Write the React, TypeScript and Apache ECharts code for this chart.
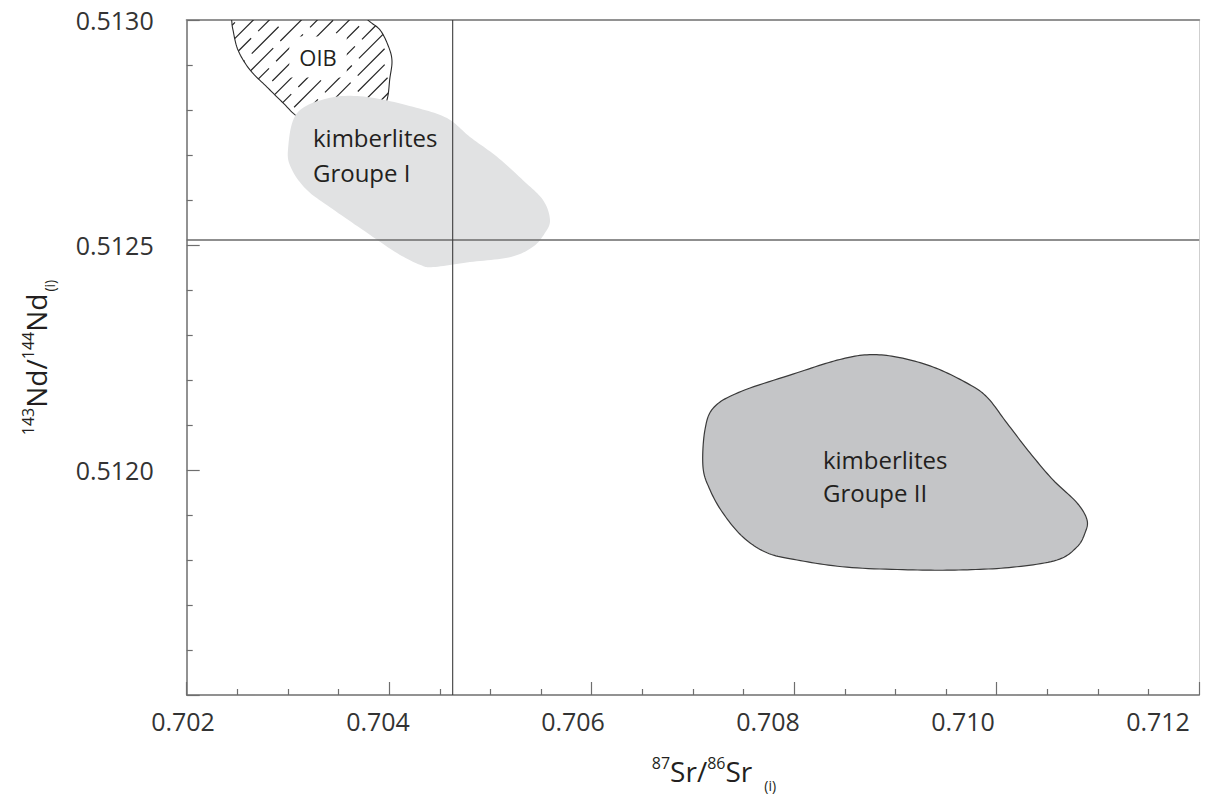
import React, { useEffect, useRef } from 'react';
import * as echarts from 'echarts';

// ---------- data ----------
const X_MIN = 0.702;
const X_MAX = 0.712;
const X_STEP = 0.002;
const Y_MIN = 0.5115;
const Y_MAX = 0.513;
const Y_STEP = 0.0005;
const yTickLabels = [0.512, 0.5125, 0.513];

// reference lines (bulk earth)
const refSr = 0.704627;
const refNd = 0.512511;

// OIB field outline (87Sr/86Sr, 143Nd/144Nd) – extends above the plot top
const oibField: [number, number][] = [
  [0.702418, 0.513067], [0.702444, 0.513], [0.702457, 0.512978], [0.702507, 0.512933],
  [0.702625, 0.512889], [0.702793, 0.512851], [0.702951, 0.512816], [0.703119, 0.512782],
  [0.703415, 0.51276], [0.703761, 0.512773], [0.703958, 0.512811], [0.704008, 0.512873],
  [0.704027, 0.512911], [0.703988, 0.512944], [0.703909, 0.512978], [0.70379, 0.513],
  [0.703613, 0.51304], [0.703317, 0.513067],
];

// kimberlites Groupe I field
const groupIField: [number, number][] = [
  [0.703, 0.512711], [0.703089, 0.512793], [0.703415, 0.512827], [0.703781, 0.512829],
  [0.704235, 0.512807], [0.704571, 0.512782], [0.704798, 0.51274], [0.705065, 0.512696],
  [0.705321, 0.512644], [0.705519, 0.5126], [0.705588, 0.512556], [0.705539, 0.512527],
  [0.70542, 0.512496], [0.705193, 0.512473], [0.704798, 0.512462], [0.704433, 0.512451],
  [0.704304, 0.512456], [0.704077, 0.512482], [0.703781, 0.512527], [0.703415, 0.512584],
  [0.703188, 0.512622], [0.70304, 0.512667],
];

// kimberlites Groupe II field
const groupIIField: [number, number][] = [
  [0.707099, 0.512007], [0.707119, 0.51209], [0.707210, 0.512140], [0.707480, 0.512175],
  [0.708028, 0.512216], [0.708423, 0.512244], [0.708719, 0.512256], [0.709015, 0.512251],
  [0.709371, 0.512229], [0.709707, 0.512193], [0.709904, 0.512162], [0.710102, 0.512104],
  [0.710329, 0.512038], [0.710556, 0.511978], [0.710793, 0.511927], [0.710892, 0.511889],
  [0.710872, 0.51186], [0.710793, 0.511829], [0.710596, 0.5118], [0.710161, 0.511784],
  [0.709667, 0.511778], [0.709173, 0.511778], [0.708521, 0.511784], [0.708028, 0.5118],
  [0.707731, 0.511816], [0.707494, 0.511851], [0.707297, 0.511904], [0.707168, 0.511956],
];

const fieldLabels = ['OIB', 'kimberlites\nGroupe I', 'kimberlites\nGroupe II'];
const fieldLabelPos: [number, number][] = [
  [0.703297, 0.512918],
  [0.703247, 0.512699],
  [0.708284, 0.511986],
];

const FONT = '"Open Sans", "Noto Sans", sans-serif';

// ---------- helpers ----------
function catmullClosed(pts: number[][], segs = 10): number[][] {
  const n = pts.length;
  const out: number[][] = [];
  for (let i = 0; i < n; i++) {
    const p0 = pts[(i - 1 + n) % n];
    const p1 = pts[i];
    const p2 = pts[(i + 1) % n];
    const p3 = pts[(i + 2) % n];
    for (let s = 0; s < segs; s++) {
      const t = s / segs;
      const t2 = t * t;
      const t3 = t2 * t;
      const f = (a: number, b: number, c: number, d: number) =>
        0.5 * (2 * b + (-a + c) * t + (2 * a - 5 * b + 4 * c - d) * t2 + (-a + 3 * b - 3 * c + d) * t3);
      out.push([f(p0[0], p1[0], p2[0], p3[0]), f(p0[1], p1[1], p2[1], p3[1])]);
    }
  }
  return out;
}

function hatch(poly: number[][], step: number) {
  const sums = poly.map((p) => p[0] + p[1]);
  const cMin = Math.min(...sums);
  const cMax = Math.max(...sums);
  const segs: { x1: number; y1: number; x2: number; y2: number }[] = [];
  const n = poly.length;
  for (let c = cMin + step / 2; c < cMax; c += step) {
    const ts: number[] = [];
    for (let i = 0; i < n; i++) {
      const A = poly[i];
      const B = poly[(i + 1) % n];
      const den = B[0] - A[0] + (B[1] - A[1]);
      if (Math.abs(den) < 1e-9) continue;
      const s = (c - (A[0] + A[1])) / den;
      if (s >= 0 && s < 1) ts.push(A[0] + s * (B[0] - A[0]));
    }
    ts.sort((a, b) => a - b);
    for (let k = 0; k + 1 < ts.length; k += 2) {
      segs.push({ x1: ts[k], y1: c - ts[k], x2: ts[k + 1], y2: c - ts[k + 1] });
    }
  }
  return segs;
}

function fieldSeries(name: string, pts: [number, number][], style: any, withHatch: boolean) {
  return {
    type: 'custom',
    name,
    data: pts,
    clip: true,
    silent: true,
    renderItem: (params: any, api: any) => {
      if (params.dataIndex !== 0) return null;
      const px = pts.map((p) => api.coord(p));
      const dense = catmullClosed(px, 12);
      const children: any[] = [];
      if (withHatch) {
        hatch(dense, 16).forEach((s, i) => {
          children.push({
            type: 'line',
            shape: s,
            style: { stroke: '#262626', lineWidth: 1.2, lineDash: [38, 10], lineDashOffset: (i * 17) % 48 },
          });
        });
      }
      children.push({ type: 'polygon', shape: { points: dense }, style });
      return { type: 'group', children };
    },
  };
}

export default function App() {
  const ref = useRef<HTMLDivElement>(null);
  useEffect(() => {
    if (!ref.current) return;
    const chart = echarts.init(ref.current, undefined, { renderer: 'svg' });
    const axisColor = '#6e6e6e';
    const rich = (subPad: number) => ({
      main: { fontSize: 28, lineHeight: 42, verticalAlign: 'middle', color: '#231f20', fontFamily: FONT },
      sup: { fontSize: 16, lineHeight: 16, verticalAlign: 'top', padding: [5, 0, 0, 0], color: '#231f20', fontFamily: FONT },
      sub: { fontSize: 14, lineHeight: 14, verticalAlign: 'bottom', padding: [0, 0, 0, subPad], color: '#231f20', fontFamily: FONT },
    });
    const hidden = { axisLine: { show: false }, axisTick: { show: false }, axisLabel: { show: false }, splitLine: { show: false } };
    const option: any = {
      animation: false,
      textStyle: { fontFamily: FONT },
      grid: [
        { left: 186.7, right: 5.8, top: 20, bottom: 105, containLabel: false },
        // label layer: the printed tick labels sit on a slightly narrower scale than the ticks
        { left: 183, right: 47, top: 20, bottom: 105, containLabel: false },
      ],
      xAxis: [
        {
          type: 'value', gridIndex: 0, min: X_MIN, max: X_MAX, interval: X_STEP, position: 'bottom',
          axisLine: { show: true, onZero: false, lineStyle: { color: axisColor, width: 1.5 } },
          axisTick: { show: true, inside: true, length: 13, lineStyle: { color: axisColor, width: 1.2 } },
          minorTick: { show: true, splitNumber: 4, length: 6, lineStyle: { color: axisColor, width: 1.2 } },
          axisLabel: { show: false },
          splitLine: { show: false },
          name: '{sup|87}{main|Sr/}{sup|86}{main|Sr}{sub|(i)}',
          nameLocation: 'middle',
          nameGap: 55,
          nameTextStyle: { padding: [0, 0, 0, 42], rich: rich(12) },
        },
        {
          type: 'value', gridIndex: 0, min: X_MIN, max: X_MAX, position: 'top',
          ...hidden,
          axisLine: { show: true, onZero: false, lineStyle: { color: '#929292', width: 2 } },
        },
        {
          type: 'value', gridIndex: 1, min: X_MIN, max: X_MAX, interval: X_STEP, position: 'bottom',
          axisLine: { show: false }, axisTick: { show: false }, splitLine: { show: false },
          axisLabel: {
            formatter: (v: number) => v.toFixed(3),
            fontSize: 25, color: '#333', margin: 13, fontFamily: FONT,
          },
        },
      ],
      yAxis: [
        {
          type: 'value', gridIndex: 0, min: Y_MIN, max: Y_MAX, interval: Y_STEP, position: 'left',
          axisLine: { show: true, onZero: false, lineStyle: { color: axisColor, width: 1.5 } },
          axisTick: { show: true, inside: true, length: 13, lineStyle: { color: axisColor, width: 1.2 } },
          minorTick: { show: true, splitNumber: 5, length: 6, lineStyle: { color: axisColor, width: 1.2 } },
          axisLabel: {
            customValues: yTickLabels,
            formatter: (v: number) => v.toFixed(4),
            fontSize: 25, color: '#333', margin: 33, fontFamily: FONT,
          },
          splitLine: { show: false },
          name: '{sup|143}{main|Nd/}{sup|144}{main|Nd}{sub|(i)}',
          nameLocation: 'middle',
          nameRotate: 90,
          nameGap: 130,
          nameTextStyle: { rich: rich(2) },
        },
        {
          type: 'value', gridIndex: 0, min: Y_MIN, max: Y_MAX, position: 'right',
          ...hidden,
          axisLine: { show: true, onZero: false, lineStyle: { color: '#cfcfcf', width: 1 } },
        },
        { type: 'value', gridIndex: 1, min: Y_MIN, max: Y_MAX, ...hidden },
      ],
      series: [
        fieldSeries('OIB', oibField, { fill: 'none', stroke: '#2b2b2b', lineWidth: 1.1 }, true),
        fieldSeries('kimberlites Groupe I', groupIField, { fill: '#e1e2e3', stroke: 'none' }, false),
        fieldSeries('kimberlites Groupe II', groupIIField, { fill: '#c4c5c7', stroke: '#3a3a3a', lineWidth: 1.2 }, false),
        {
          type: 'custom',
          name: 'reference',
          data: [[refSr, refNd]],
          silent: true,
          renderItem: (params: any, api: any) => {
            const sr = api.value(0);
            const nd = api.value(1);
            const v1 = api.coord([sr, Y_MIN]);
            const v2 = api.coord([sr, Y_MAX]);
            const h1 = api.coord([X_MIN, nd]);
            const h2 = api.coord([X_MAX, nd]);
            return {
              type: 'group',
              children: [
                { type: 'line', shape: { x1: h1[0], y1: h1[1], x2: h2[0], y2: h2[1] }, style: { stroke: '#6a6a6a', lineWidth: 1.6 } },
                { type: 'line', shape: { x1: v1[0], y1: v1[1], x2: v2[0], y2: v2[1] }, style: { stroke: '#3c3c3c', lineWidth: 1.1 } },
              ],
            };
          },
        },
        {
          type: 'custom',
          name: 'labels',
          data: fieldLabelPos,
          silent: true,
          renderItem: (params: any, api: any) => {
            const p = api.coord([api.value(0), api.value(1)]);
            const i = params.dataIndex;
            const isOib = i === 0;
            return {
              type: 'text',
              x: p[0],
              y: p[1],
              style: {
                text: fieldLabels[i],
                fill: '#231f20',
                fontFamily: FONT,
                fontSize: isOib ? 22 : 24,
                lineHeight: i === 1 ? 35 : 33,
                align: isOib ? 'center' : 'left',
                verticalAlign: 'middle',
                backgroundColor: isOib ? '#ffffff' : undefined,
                padding: isOib ? [4, 10, 4, 10] : 0,
              },
            };
          },
        },
      ],
    };
    chart.setOption(option);
    return () => chart.dispose();
  }, []);
  return <div ref={ref} style={{ position: 'fixed', left: 0, top: 0, width: 1205, height: 800, background: '#fff' }} />;
}
